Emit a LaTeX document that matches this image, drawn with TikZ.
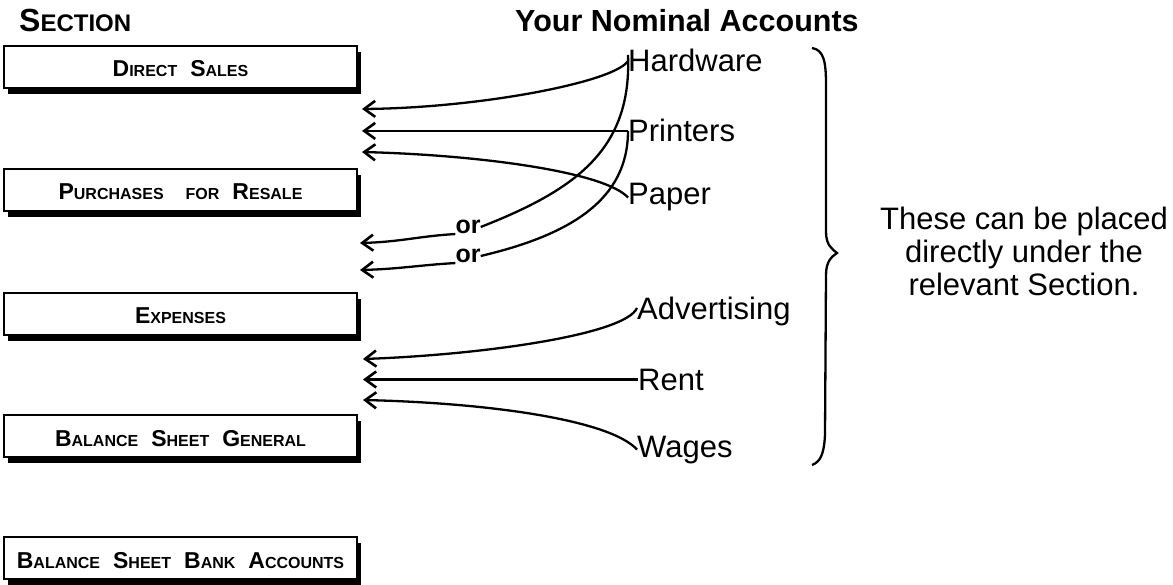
\documentclass[tikz,border=0pt]{standalone}
\usepackage{fontspec}
\setmainfont{Liberation Sans}
\usetikzlibrary{arrows.meta,shadows}
\newcommand{\Bg}[1]{{\fontsize{23}{23}\selectfont #1}}
\newcommand{\Sm}[1]{{\fontsize{16}{16}\selectfont #1}}
\newcommand{\gap}{\hspace{13pt}}
\begin{document}
\begin{tikzpicture}[x=1pt,y=-1pt,
  secbox/.style={draw, line width=2pt, fill=white, minimum width=353pt, minimum height=42pt, inner sep=0pt, font=\bfseries, text height=20pt, text depth=0pt, drop shadow={shadow xshift=4pt, shadow yshift=-6pt, fill=black, opacity=1}},
  lbl/.style={inner sep=0pt, anchor=base west, font=\fontsize{31}{33}\selectfont},
  conn/.style={line width=2.3pt},
  arr/.style={conn, -{Straight Barb[length=11pt,width=16pt,line width=2.6pt]}},
  ortxt/.style={inner sep=0pt, font=\fontsize{25}{25}\selectfont\bfseries},
]
\useasboundingbox (0,0) rectangle (1173,585);

% headers
\node[inner sep=0pt, anchor=base west, font=\bfseries] (sec) at (19,32) {\fontsize{32}{32}\selectfont S\fontsize{24}{24}\selectfont ECTION};
\node[inner sep=0pt, anchor=base west, font=\fontsize{30.5}{31}\selectfont\bfseries] (yna) at (515,32) {Your Nominal Accounts};

% section boxes
\node[secbox] (b1) at (180.5,67) {\Bg{D}\Sm{IRECT}\gap\Bg{S}\Sm{ALES}};
\node[secbox] (b2) at (180.5,190) {\Bg{P}\Sm{URCHASES}\hspace{22pt}\Sm{FOR}\gap\Bg{R}\Sm{ESALE}};
\node[secbox] (b3) at (180.5,314) {\Bg{E}\Sm{XPENSES}};
\node[secbox] (b4) at (180.5,436) {\Bg{B}\Sm{ALANCE}\gap\Bg{S}\Sm{HEET}\gap\Bg{G}\Sm{ENERAL}};
\node[secbox] (b5) at (180.5,558) {\Bg{B}\Sm{ALANCE}\gap\Bg{S}\Sm{HEET}\gap\Bg{B}\Sm{ANK}\gap\Bg{A}\Sm{CCOUNTS}};

% nominal accounts
\node[lbl] (hw) at (628,72) {Hardware};
\node[lbl] (pt) at (628,142) {Printers};
\node[lbl] (pa) at (628,205) {Paper};
\node[lbl] (ad) at (637,320) {Advertising};
\node[lbl] (rt) at (638,390) {Rent};
\node[lbl] (wg) at (637,457) {Wages};

% arrow tips
\coordinate (t1) at (362,109);
\coordinate (t2) at (362,130);
\coordinate (t3) at (362,152);
\coordinate (t4) at (360,243);
\coordinate (t5) at (360,270);
\coordinate (t6) at (363,359);
\coordinate (t7) at (363,379);
\coordinate (t8) at (363,400);

\node[ortxt] (or1) at (468,227) {or};
\node[ortxt] (or2) at (468,256) {or};

% connectors
\draw[arr] (hw.west) .. controls (615,82) and (480,108) .. (t1);
\draw[arr] (pt.west) -- (pt.west -| t2);
\draw[arr] (pa.west) .. controls (605,172) and (480,155) .. (t3);
\draw[conn] ([yshift=6pt]hw.west) .. controls (632,150) and (575,190) .. (or1.east);
\draw[arr] (or1.south west) .. controls (420,236) and (400,242) .. (t4);
\draw[conn] (pt.west) .. controls (628,200) and (570,235) .. (or2.east);
\draw[arr] (or2.south west) .. controls (420,265) and (400,269) .. (t5);
\draw[arr] ([yshift=4pt]ad.west) .. controls (625,335) and (480,355) .. (t6);
\draw[arr] (rt.west) -- (rt.west -| t7);
\draw[arr] (wg.west) .. controls (610,420) and (490,403) .. (t8);

% brace
\draw[conn] (812,48) .. controls (824,50) and (826,62) .. (826,85) -- (826,232) .. controls (826,245) and (832,249) .. (837,253) .. controls (831,257) and (826,262) .. (826,275) -- (825,435) .. controls (824,455) and (820,462) .. (812,465);

\node[align=center, inner sep=0pt, font=\fontsize{31}{33}\selectfont] (note) at (1024,251) {These can be placed\\directly under the\\relevant Section.};
\end{tikzpicture}
\end{document}
